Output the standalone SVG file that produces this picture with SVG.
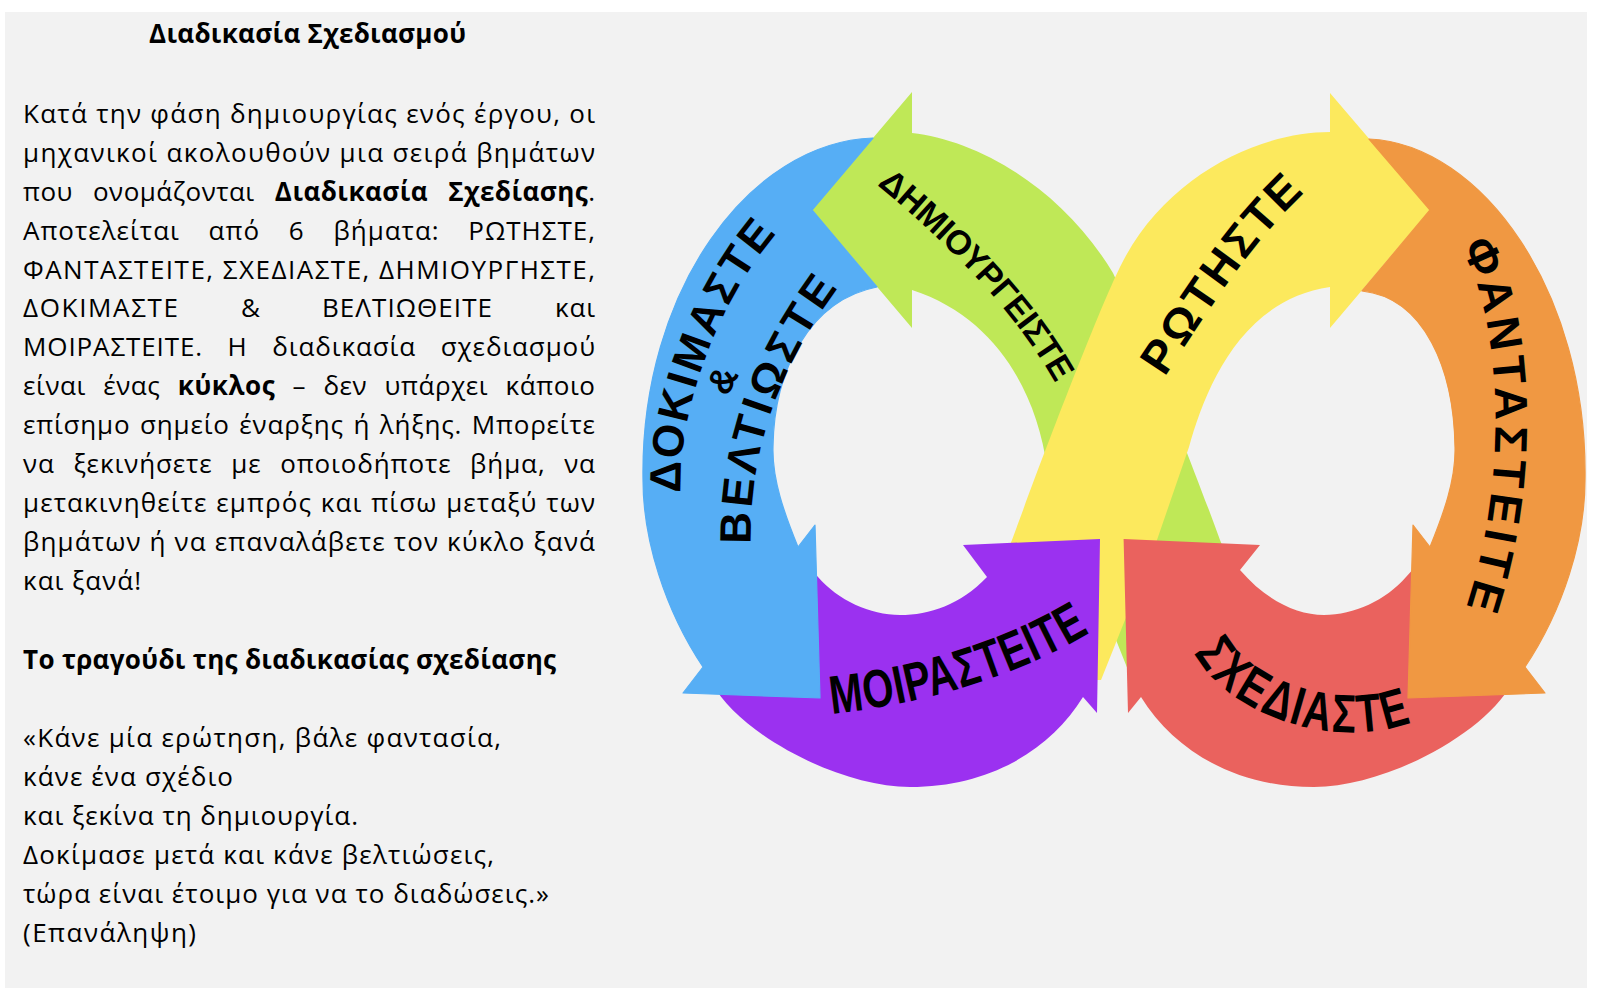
<svg xmlns="http://www.w3.org/2000/svg" width="1600" height="1000" viewBox="0 0 1600 1000">
<style>
.t{font-family:'Open Sans','Noto Sans','Liberation Sans',Arial,sans-serif;font-size:26px;fill:#000}
.b{font-weight:bold}
.lbl{font-family:'Liberation Sans','Noto Sans',Arial,sans-serif;font-weight:bold;fill:#000;dominant-baseline:central}
.green{fill:#bfe857}
.yellow{fill:#fce95d}
.purple{fill:#9b31f0}
.red{fill:#ea625e}
.blue{fill:#56aef5;stroke:#56aef5;stroke-width:1.2;stroke-linejoin:round}
.orange{fill:#f09842;stroke:#f09842;stroke-width:1.2;stroke-linejoin:round}
</style>
<defs>
<path id="p-create" d="M878,170 C945,225 1025,300 1070,385"/>
<path id="p-ask" d="M1150,370 C1185,318 1235,235 1295,180"/>
<path id="p-imagine" d="M1472,236 C1515,300 1530,470 1480,616"/>
<path id="p-plan" d="M1210,642 C1240,700 1340,730 1406,704"/>
<path id="p-share" d="M828,695 C900,688 1000,665 1082,615"/>
<path id="p-test1" d="M665,497 C660,420 697,300 767,220"/>
<path id="p-test2" d="M735,552 C732,460 756,370 830,272"/>
</defs>
<rect width="1600" height="1000" fill="#ffffff"/>
<rect id="panel" x="5" y="12" width="1582" height="976" fill="#f2f2f2"/>

<g id="description" class="t">
<text class="b" x="149" y="42.7" textLength="317">Διαδικασία Σχεδιασμού</text>
<text x="23" y="122.7" textLength="572">Κατά την φάση δημιουργίας ενός έργου, οι</text>
<text x="23" y="161.65" textLength="572">μηχανικοί ακολουθούν μια σειρά βημάτων</text>
<text x="23" y="200.6" textLength="572" word-spacing="13">που ονομάζονται <tspan class="b">Διαδικασία Σχεδίασης</tspan>.</text>
<text x="23" y="239.55" textLength="572" word-spacing="21">Αποτελείται από 6 βήματα: ΡΩΤΗΣΤΕ,</text>
<text x="23" y="278.5" textLength="572">ΦΑΝΤΑΣΤΕΙΤΕ, ΣΧΕΔΙΑΣΤΕ, ΔΗΜΙΟΥΡΓΗΣΤΕ,</text>
<text x="23" y="317.45" textLength="155">ΔΟΚΙΜΑΣΤΕ</text>
<text x="241" y="317.45">&amp;</text>
<text x="322" y="317.45" textLength="170">ΒΕΛΤΙΩΘΕΙΤΕ</text>
<text x="555" y="317.45" textLength="40">και</text>
<text x="23" y="356.4" textLength="572" word-spacing="17">ΜΟΙΡΑΣΤΕΙΤΕ. Η διαδικασία σχεδιασμού</text>
<text x="23" y="395.35" textLength="572" word-spacing="10">είναι ένας <tspan class="b">κύκλος</tspan> – δεν υπάρχει κάποιο</text>
<text x="23" y="434.3" textLength="572" word-spacing="2">επίσημο σημείο έναρξης ή λήξης. Μπορείτε</text>
<text x="23" y="473.25" textLength="572" word-spacing="11">να ξεκινήσετε με οποιοδήποτε βήμα, να</text>
<text x="23" y="512.2" textLength="572" word-spacing="1">μετακινηθείτε εμπρός και πίσω μεταξύ των</text>
<text x="23" y="551.15" textLength="572">βημάτων ή να επαναλάβετε τον κύκλο ξανά</text>
<text x="23" y="590.1" textLength="118">και ξανά!</text>
<text class="b" x="23" y="669" textLength="533">Το τραγούδι της διαδικασίας σχεδίασης</text>
<text x="23" y="746.7" textLength="478">«Κάνε μία ερώτηση, βάλε φαντασία,</text>
<text x="23" y="785.7" textLength="210">κάνε ένα σχέδιο</text>
<text x="23" y="824.6" textLength="335">και ξεκίνα τη δημιουργία.</text>
<text x="23" y="863.6" textLength="471">Δοκίμασε μετά και κάνε βελτιώσεις,</text>
<text x="23" y="902.6" textLength="526">τώρα είναι έτοιμο για να το διαδώσεις.»</text>
<text x="23" y="941.6" textLength="173">(Επανάληψη)</text>
</g>

<g id="cycle">
<g id="node-create">
<path class="green" d="M912,133 C975,140 1060,185 1113,273 C1130,310 1180,430 1220,540 L1277,680 L1132,680 L1047,467 C1037,395 998,318 912,290 L912,328 L812,210 L912,92 Z"/>
<text class="lbl" font-size="34" text-anchor="middle"><textPath href="#p-create" startOffset="50%" textLength="272">ΔΗΜΙΟΥΡΓΕΙΣΤΕ</textPath></text>
</g>
<g id="node-ask">
<path class="yellow" d="M1330,132 C1260,132 1165,175 1120,267 C1097,314 1045,450 1012,540 L950,680 L1101,680 L1157,540 L1189,447 C1205,390 1240,300 1330,287 L1330,328 L1430,210 L1330,93 Z"/>
<text class="lbl" font-size="46" text-anchor="middle"><textPath href="#p-ask" startOffset="50%" textLength="235">ΡΩΤΗΣΤΕ</textPath></text>
</g>
<g id="node-share">
<path class="purple" d="M712,683 C740,735 840,787 910,787 C990,787 1050,750 1083,697 L1097,713 L1100,539 L963,545 L987,577 C960,605 930,615 900,615 C870,615 838,600 818,577 L808,566 Z"/>
<text class="lbl" font-size="54" text-anchor="middle"><textPath href="#p-share" startOffset="50%" textLength="265" lengthAdjust="spacingAndGlyphs">ΜΟΙΡΑΣΤΕΙΤΕ</textPath></text>
</g>
<g id="node-plan">
<path class="red" d="M1141,697 L1128,713 L1123.6,539 L1260,545 L1240,570 C1266,600 1296,615 1324,615 C1354,615 1386,600 1406,577 L1416,566 L1512,683 C1484,735 1384,787 1314,787 C1234,787 1174,750 1141,697 Z"/>
<text class="lbl" font-size="54" text-anchor="middle"><textPath href="#p-plan" startOffset="50%" textLength="222" lengthAdjust="spacingAndGlyphs">ΣΧΕΔΙΑΣΤΕ</textPath></text>
</g>
<g id="node-test">
<path class="blue" d="M873,138 C750,142 640,290 643,480 C643,540 665,610 703,667 L683,693 L820,698 L815,525 L798,547 C785,515 772,480 773,447 C774,370 810,300 877,287 L812,210 Z"/>
<text class="lbl" font-size="44" text-anchor="middle"><textPath href="#p-test1" startOffset="50%" textLength="292">ΔΟΚΙΜΑΣΤΕ</textPath></text>
<text class="lbl" font-size="36" text-anchor="middle" x="722" y="380" transform="rotate(-62 722 380)">&amp;</text>
<text class="lbl" font-size="44" text-anchor="middle"><textPath href="#p-test2" startOffset="50%" textLength="285">ΒΕΛΤΙΩΣΤΕ</textPath></text>
</g>
<g id="node-imagine">
<path class="orange" d="M1369,139 C1482,144 1588,292 1585,480 C1585,540 1563,610 1525,667 L1545,693 L1408,698 L1413,525 L1430,547 C1443,515 1456,480 1455,447 C1454,370 1425,298 1362,291 L1430,210 Z"/>
<text class="lbl" font-size="46" text-anchor="middle"><textPath href="#p-imagine" startOffset="50%" textLength="380">ΦΑΝΤΑΣΤΕΙΤΕ</textPath></text>
</g>
</g>
</svg>
